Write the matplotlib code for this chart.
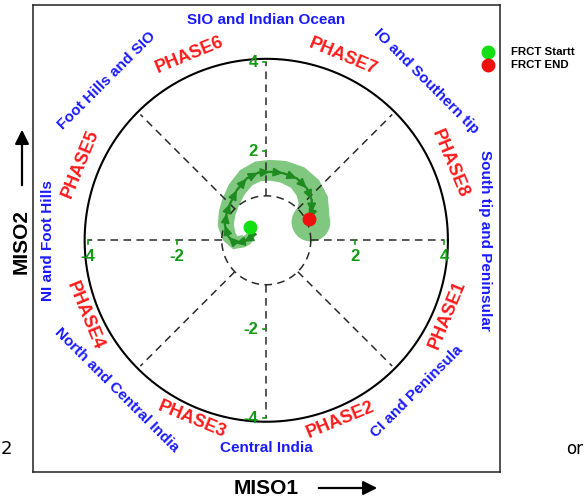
import numpy as np
import matplotlib
matplotlib.use("Agg")
import matplotlib.pyplot as plt
from matplotlib.lines import Line2D
from matplotlib.patches import Circle, Polygon

plt.rcParams['font.family'] = ['Liberation Sans', 'DejaVu Sans']

# ---------------- data ----------------
# forecast MISO trajectory (MISO1, MISO2), from start to end
miso1 = [-0.36, -0.34, -0.43, -0.51, -0.70, -0.85, -0.93, -0.89, -0.81, -0.66,
         -0.44, -0.18, 0.09, 0.38, 0.69, 0.91, 1.02, 1.02, 0.97]
miso2 = [0.29, 0.12, 0.01, -0.03, -0.07, 0.08, 0.34, 0.61, 0.83, 1.13,
         1.39, 1.52, 1.54, 1.51, 1.39, 1.17, 0.91, 0.61, 0.47]
# ensemble spread on the outer / inner side of the trajectory
spread_out = [0.08, 0.10, 0.12, 0.13, 0.14, 0.15, 0.16, 0.18, 0.20, 0.22,
              0.24, 0.26, 0.27, 0.28, 0.30, 0.33, 0.37, 0.40, 0.42]
spread_in = [0.08, 0.10, 0.12, 0.15, 0.17, 0.18, 0.20, 0.20, 0.20, 0.20,
             0.20, 0.20, 0.20, 0.22, 0.25, 0.28, 0.30, 0.33, 0.35]

phase_names = ['PHASE1', 'PHASE2', 'PHASE3', 'PHASE4',
               'PHASE5', 'PHASE6', 'PHASE7', 'PHASE8']
region_names = ['South tip and Peninsular', 'CI and Peninsula', 'Central India',
                'North and Central India', 'NI and Foot Hills', 'Foot Hills and SIO',
                'SIO and Indian Ocean', 'IO and Southern tip']
tick_values = [-4, -2, 2, 4]
legend_labels = ['FRCT Startt', 'FRCT END']

# ---------------- layout ----------------
phase_angles = [-22.5, -67.5, -112.5, -157.5, 157.5, 112.5, 67.5, 22.5]
phase_radius = [4.40, 4.37, 4.37, 4.41, 4.52, 4.50, 4.47, 4.47]
region_angles = [0, -45, -90, -135, 180, 135, 90, 45]
region_radius = [4.92, 4.80, 4.66, 4.76, 4.91, 5.07, 4.95, 5.07]

W, H = 585, 496
fig = plt.figure(figsize=(W / 100, H / 100), dpi=100)
ax = fig.add_axes([33 / W, 24 / H, 467 / W, 467 / H])
ax.set_xlim(-5.24, 5.25)
ax.set_ylim(-5.21, 5.29)
ax.set_xticks([])
ax.set_yticks([])
for s in ax.spines.values():
    s.set_linewidth(1.1)
    s.set_color('#222222')

blue = '#1a1aff'
red = '#ff1a1a'
tick_green = '#139a13'
path_green = '#1f8a1f'
band_green = '#80c880'
dash_kw = dict(color='#2a2a2a', lw=1.1, linestyle=(0, (5, 3.5)), zorder=2)


def text_rotation(angle):
    return angle - 90 if angle >= 0 else angle + 90


# spread band around the trajectory
x = np.array(miso1)
y = np.array(miso2)
dx = np.gradient(x)
dy = np.gradient(y)
norm = np.hypot(dx, dy)
nx, ny = -dy / norm, dx / norm            # left-hand normal (outer side)
so = np.array(spread_out)
si = np.array(spread_in)
outer = np.column_stack([x + nx * so, y + ny * so])
inner = np.column_stack([x - nx * si, y - ny * si])
band = np.vstack([outer, inner[::-1]])
ax.add_patch(Polygon(band, closed=True, facecolor=band_green, edgecolor='none', zorder=1))
ax.add_patch(Circle((x[0], y[0]), (so[0] + si[0]) / 2, facecolor=band_green,
                    edgecolor='none', zorder=1))
ax.add_patch(Circle((x[-1] + nx[-1] * (so[-1] - si[-1]) / 2,
                     y[-1] + ny[-1] * (so[-1] - si[-1]) / 2 - 0.05),
                    (so[-1] + si[-1]) / 2 + 0.05, facecolor=band_green,
                    edgecolor='none', zorder=1))

# phase-space frame: outer circle, inner dashed circle, dashed spokes
theta = np.linspace(0, 2 * np.pi, 400)
ax.plot(4.08 * np.cos(theta), 4.08 * np.sin(theta), color='black', lw=1.5, zorder=2)
ax.plot(np.cos(theta), np.sin(theta), **dash_kw)
for a in np.deg2rad(np.arange(0, 360, 45)):
    ax.plot([np.cos(a), 4 * np.cos(a)], [np.sin(a), 4 * np.sin(a)], **dash_kw)

# green ticks and labels on the two axes
for t in tick_values:
    ax.plot([t, t], [0, -0.08], color=tick_green, lw=1.2, zorder=3)
    ax.text(t, -0.2, f'{t}', color=tick_green, fontsize=12, fontweight='bold',
            ha='center', va='top', zorder=5)
    ax.plot([-0.08, 0], [t, t], color=tick_green, lw=1.2, zorder=3)
    ax.text(-0.19, t, f'{t}', color=tick_green, fontsize=12, fontweight='bold',
            ha='right', va='center', zorder=5)

# phase and region labels
for name, ang, r in zip(phase_names, phase_angles, phase_radius):
    a = np.deg2rad(ang)
    ax.text(r * np.cos(a), r * np.sin(a), name, color=red, fontsize=13,
            fontweight='bold', rotation=text_rotation(ang), rotation_mode='anchor',
            ha='center', va='center')
for name, ang, r in zip(region_names, region_angles, region_radius):
    a = np.deg2rad(ang)
    ax.text(r * np.cos(a), r * np.sin(a), name, color=blue, fontsize=11,
            fontweight='bold', rotation=text_rotation(ang), rotation_mode='anchor',
            ha='center', va='center')

# trajectory with arrowheads
ax.plot(x, y, color=path_green, lw=1.5, zorder=4)
for i in range(len(x) - 1):
    ax.annotate('', xy=(x[i + 1], y[i + 1]), xytext=(x[i], y[i]),
                arrowprops=dict(arrowstyle='-|>,head_length=0.55,head_width=0.25',
                                color=path_green, lw=1.3, shrinkA=0, shrinkB=0),
                zorder=4)
start_dot, = ax.plot(x[0], y[0], 'o', color='#12e012', ms=9, zorder=6)
end_dot, = ax.plot(x[-1], y[-1], 'o', color='#f01010', ms=9, zorder=6)

# legend entries to the right of the frame
for k, (dot, lab) in enumerate(zip([start_dot, end_dot], legend_labels)):
    yy = 444 - 13 * k
    fig.add_artist(Line2D([488 / W], [yy / H], marker='o', color=dot.get_color(),
                          ms=9, transform=fig.transFigure))
    fig.text(511 / W, yy / H, lab, fontsize=8.2, fontweight='bold', va='center',
             ha='left')

# axis titles with arrows
fig.text(266 / W, 8 / H, 'MISO1', fontsize=15, fontweight='bold', ha='center',
         va='center')
fig.add_artist(matplotlib.patches.FancyArrowPatch(
    (316 / W, 8 / H), (380 / W, 8 / H), transform=fig.transFigure,
    arrowstyle='-|>,head_length=0.6,head_width=0.3', mutation_scale=14,
    color='black', lw=1.6))
fig.text(21 / W, 255 / H, 'MISO2', fontsize=15, fontweight='bold', ha='center',
         va='center', rotation=90)
fig.add_artist(matplotlib.patches.FancyArrowPatch(
    (22 / W, 308 / H), (22 / W, 369 / H), transform=fig.transFigure,
    arrowstyle='-|>,head_length=0.6,head_width=0.3', mutation_scale=14,
    color='black', lw=1.6))

# neighbouring panel text at the edges
fig.text(1 / W, 47 / H, '2', fontsize=13, ha='left', va='center',
         family='DejaVu Sans')
fig.text(583 / W, 47 / H, 'or', fontsize=12, ha='right', va='center',
         family='DejaVu Sans')

fig.savefig('out.png', dpi=100)
